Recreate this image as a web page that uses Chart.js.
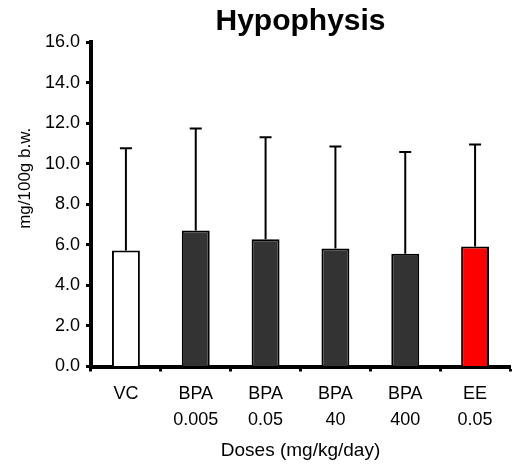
<!DOCTYPE html>
<html>
<head>
<meta charset="utf-8">
<script src="https://cdn.jsdelivr.net/npm/chart.js@4/dist/chart.umd.min.js"></script>
<style>
  html, body { margin: 0; padding: 0; background: #fff; }
  #wrap { width: 512px; height: 465px; }
</style>
</head>
<body>
<div id="wrap"><canvas id="chart" width="512" height="465"></canvas></div>
<script>
// data
const doseLabels = [["VC"], ["BPA", "0.005"], ["BPA", "0.05"], ["BPA", "40"], ["BPA", "400"], ["EE", "0.05"]];
const meanValues = [5.72, 6.71, 6.28, 5.82, 5.56, 5.92];
const sdValues = [5.04, 5.03, 5.02, 5.03, 5.02, 5.03];
const barColors = ["#ffffff", "#333333", "#333333", "#333333", "#333333", "#ff0000"];
const yTicks = [0, 2, 4, 6, 8, 10, 12, 14, 16];
const yTitle = "mg/100g b.w.";

const FONT = "'Liberation Sans', Arial, sans-serif";

// upward-only error bars with a cap
const errorBars = {
  id: "errorBars",
  afterDatasetsDraw(chart) {
    const ctx = chart.ctx;
    const meta = chart.getDatasetMeta(0);
    const yScale = chart.scales.y;
    ctx.save();
    ctx.strokeStyle = "#000";
    ctx.lineWidth = 2;
    meta.data.forEach((bar, i) => {
      const top = yScale.getPixelForValue(meanValues[i] + sdValues[i]);
      ctx.beginPath();
      ctx.moveTo(bar.x, bar.y);
      ctx.lineTo(bar.x, top);
      ctx.moveTo(bar.x - 6, top);
      ctx.lineTo(bar.x + 6, top);
      ctx.stroke();
    });
    ctx.restore();
  }
};

// y title sits a bit above the middle of the axis in the original
const yAxisTitle = {
  id: "yAxisTitle",
  afterDraw(chart) {
    const ctx = chart.ctx;
    const area = chart.chartArea;
    ctx.save();
    ctx.translate(25, area.top + (area.bottom - area.top) * 0.42);
    ctx.rotate(-Math.PI / 2);
    ctx.font = "17px " + FONT;
    ctx.fillStyle = "#000";
    ctx.textAlign = "center";
    ctx.textBaseline = "middle";
    ctx.fillText(yTitle, 0, 0);
    ctx.restore();
  }
};

new Chart(document.getElementById("chart").getContext("2d"), {
  type: "bar",
  data: {
    labels: doseLabels,
    datasets: [{
      data: meanValues,
      backgroundColor: barColors,
      borderColor: "#000",
      borderWidth: 2,
      borderSkipped: "bottom",
      categoryPercentage: 1,
      barPercentage: 0.4
    }]
  },
  options: {
    responsive: false,
    animation: false,
    events: [],
    layout: { padding: { left: 0, right: 2, top: 0, bottom: 0 } },
    plugins: {
      legend: { display: false },
      tooltip: { enabled: false },
      title: {
        display: true,
        text: "Hypophysis",
        fullSize: false,
        color: "#000",
        font: { family: FONT, size: 30, weight: "bold", lineHeight: 1.2 },
        padding: { top: 4, bottom: 2 }
      }
    },
    scales: {
      x: {
        afterFit: (s) => { s.height = 98.5; },
        grid: { drawOnChartArea: false, tickLength: 5, tickWidth: 3, tickColor: "#000", offset: true },
        border: { display: true, color: "#000", width: 4 },
        ticks: {
          color: "#000",
          padding: 9,
          maxRotation: 0,
          font: { family: FONT, size: 18, lineHeight: 1.45 }
        },
        title: {
          display: true,
          text: "Doses (mg/kg/day)",
          color: "#000",
          font: { family: FONT, size: 19 },
          padding: { top: 0, bottom: 3 }
        }
      },
      y: {
        min: 0,
        max: 16,
        afterFit: (s) => { s.width = 91; },
        afterBuildTicks: (s) => { s.ticks = yTicks.map((v) => ({ value: v })); },
        grid: { drawOnChartArea: false, tickLength: 5, tickWidth: 3, tickColor: "#000" },
        border: { display: true, color: "#000", width: 4 },
        ticks: {
          color: "#000",
          padding: 6,
          font: { family: FONT, size: 18 },
          callback: (v) => Number(v).toFixed(1)
        }
      }
    }
  },
  plugins: [errorBars, yAxisTitle]
});
</script>
</body>
</html>
